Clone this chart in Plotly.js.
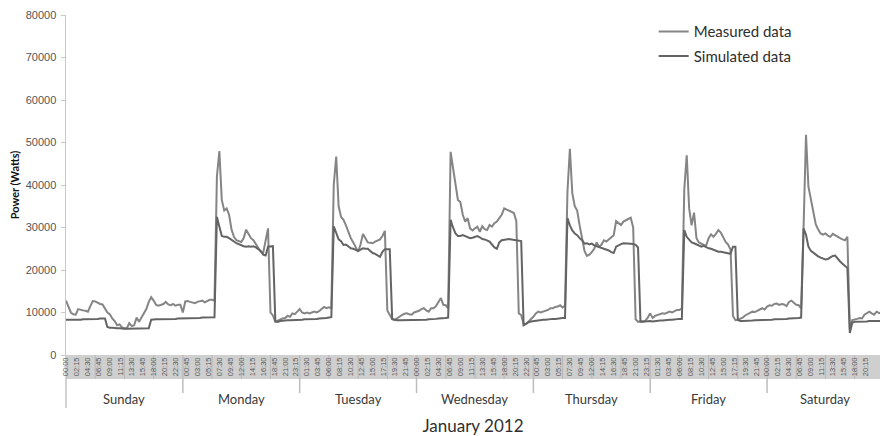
<!DOCTYPE html>
<html>
<head>
<meta charset="utf-8">
<script src="https://cdn.plot.ly/plotly-3.0.1.min.js"></script>
<style>
  html, body { margin: 0; padding: 0; background: #ffffff; }
  #chart { width: 880px; height: 436px; }
</style>
</head>
<body>
<div id="chart"></div>
<script>
// Building power over one week of January 2012, half-hourly readings (Watts)
const days = ['Sunday', 'Monday', 'Tuesday', 'Wednesday', 'Thursday', 'Friday', 'Saturday'];

// Clock labels on the time axis, one every 2h15 from Sunday 00:00
const timeLabels = [
  '00:00','02:15','04:30','06:45','09:00','11:15','13:30','15:45','18:00','20:15','22:30',
  '00:45','03:00','05:15','07:30','09:45','12:00','14:15','16:30','18:45','21:00','23:15',
  '01:30','03:45','06:00','08:15','10:30','12:45','15:00','17:15','19:30','21:45',
  '00:00','02:15','04:30','06:45','09:00','11:15','13:30','15:45','18:00','20:15','22:30',
  '00:45','03:00','05:15','07:30','09:45','12:00','14:15','16:30','18:45','21:00','23:15',
  '01:30','03:45','06:00','08:15','10:30','12:45','15:00','17:15','19:30','21:45',
  '00:00','02:15','04:30','06:45','09:00','11:15','13:30','15:45','18:00','20:15','22:30'
];

// Measured power, 48 half-hour values per day
const measuredSun = [12800,11200,10000,9600,9500,10800,10600,10500,10400,10200,11500,12700,12600,12300,12000,11900,11000,10000,9600,8600,8000,7000,7200,6500,6300,6300,7500,6800,7000,8800,7800,8800,9800,10800,12500,13600,12800,11800,11600,11900,12000,12500,11900,11700,12000,11600,11800,11800];
const measuredMon = [10000,12600,12700,12500,12300,12200,12500,12600,12800,12400,12700,13000,13000,12800,42000,48000,36500,34000,34500,33000,29500,27800,27000,26800,26600,27500,29500,28500,27500,27000,26000,25000,24300,24000,27000,29800,10000,9300,7800,8200,8400,8600,8700,9200,9000,9800,9600,10200];
const measuredTue = [10800,10000,9800,10000,9800,10000,10200,10000,10300,10800,11300,11000,11200,11000,40000,46700,35000,32500,31800,30500,29000,27500,26500,25500,24300,26000,28500,27500,26500,26400,26300,26700,27000,27200,28000,29200,10500,9400,8400,8200,8600,9200,9400,9700,9800,9600,9500,10000];
const measuredWed = [10200,10400,10800,11000,10500,10200,11000,11000,11500,12500,13400,11800,11700,11000,47800,44000,40000,36500,36000,33000,31400,32200,29800,29300,29800,30200,29000,30300,29600,29400,30600,30200,31000,31400,32200,33000,34500,34200,34000,33700,33400,31500,9800,9400,7200,7300,7800,8500];
const measuredThu = [9000,9800,10200,10000,10200,10400,10600,11000,11000,11300,11400,11700,11200,11600,38400,48500,38000,35000,34000,30500,27500,24500,23300,23600,24200,25000,26500,25500,26000,27000,26700,27200,27800,28200,31500,31000,30600,31400,31800,32000,32300,30000,8400,7800,8000,7900,8100,8800];
const measuredFri = [9800,8700,9200,9400,9600,9800,9700,9900,10200,10000,10300,10600,10600,11000,39000,47000,34500,30500,33500,27500,26500,26200,25900,25800,27500,28400,27800,28500,29400,28800,27800,26600,26000,24800,9200,8200,8300,8500,8800,9300,9600,10000,10200,10100,10400,10700,11000,10700];
const measuredSat = [11400,11700,11600,12000,12100,11800,12000,11900,11500,12500,12800,12300,11800,11700,11000,30000,51800,39600,36500,33500,30800,29500,28600,28300,28600,28100,27800,28500,28100,27800,27500,27200,27000,27800,6000,8200,8300,8500,8700,8600,9500,9800,10200,9800,9500,10200,9900,9900];

// Simulated power, 48 half-hour values per day
const simulatedSun = [8300,8300,8200,8200,8300,8300,8300,8400,8400,8400,8400,8500,8500,8500,8600,8600,8600,6600,6400,6400,6300,6300,6300,6200,6200,6200,6200,6200,6200,6200,6200,6200,6200,6300,6300,8300,8400,8400,8400,8400,8500,8500,8500,8500,8500,8500,8600,8600];
const simulatedMon = [8600,8600,8600,8600,8700,8700,8700,8700,8800,8800,8800,8900,8900,8900,32500,30000,28000,27800,27800,27500,27000,26700,26300,26000,25800,25600,25500,25600,25500,25600,25300,24900,24500,23600,23400,25500,25600,25600,8000,7800,8000,8100,8100,8200,8200,8200,8300,8300];
const simulatedTue = [8300,8300,8400,8400,8400,8500,8500,8500,8600,8600,8700,8700,8800,8900,30300,28500,27200,26800,25900,26000,25500,25100,25000,24700,24500,24800,25100,25000,25000,24500,24000,23800,23400,23100,24300,24900,24900,24900,8500,8300,8200,8200,8200,8300,8300,8300,8300,8300];
const simulatedWed = [8200,8200,8300,8300,8300,8400,8400,8500,8500,8600,8600,8700,8700,8800,31800,30000,28600,28000,28000,28200,28000,27800,27500,27600,27800,28000,27700,27300,27200,27000,26700,26000,25300,25000,26500,27000,27100,27300,27300,27200,27100,27000,27000,26800,7000,7400,7700,7900];
const simulatedThu = [8000,8100,8200,8200,8300,8300,8400,8400,8500,8500,8600,8600,8700,8700,32200,30500,29300,28600,28200,27500,27000,26200,26300,26000,26200,25800,25600,25300,25100,25000,24800,24600,24200,24000,25500,25900,26100,26300,26300,26300,26200,26100,25900,25300,7800,7800,7900,8000];
const simulatedFri = [8000,7900,8000,8000,8100,8100,8200,8200,8300,8300,8400,8400,8500,8500,29400,27800,27000,26500,26300,26000,25900,25500,25700,25400,25100,25000,24800,24500,24300,24300,24200,24000,23900,23800,25500,25500,8200,8000,8000,8000,8100,8100,8100,8200,8200,8200,8300,8300];
const simulatedSat = [8300,8300,8300,8400,8400,8400,8500,8500,8500,8600,8600,8600,8700,8700,8800,29800,28300,25500,24500,24000,23500,23200,22900,22700,22500,22600,23000,23300,23400,22600,22000,21500,21000,20500,5200,7600,7800,7800,7800,7900,7900,7900,8000,8000,8000,8000,8000,8000];

const measuredWeek = [measuredSun, measuredMon, measuredTue, measuredWed, measuredThu, measuredFri, measuredSat];
const simulatedWeek = [simulatedSun, simulatedMon, simulatedTue, simulatedWed, simulatedThu, simulatedFri, simulatedSat];

// x is measured in hours since Sunday 00:00
function hoursOf(week) {
  const xs = [];
  week.forEach((dayVals, d) => dayVals.forEach((_, i) => xs.push(24 * d + 0.5 * i)));
  return xs;
}
const flat = week => [].concat(...week);

const FONT = 'Lato, "Noto Sans", sans-serif';
const bandDepth = 24 / 340;      // grey label band under the plot (paper units)
const dayTick = 38 / 340;        // day separators reach below the band

const traces = [
  {
    x: hoursOf(measuredWeek), y: flat(measuredWeek),
    type: 'scatter', mode: 'lines', name: 'Measured data', legendgroup: 'm',
    line: { color: '#858585', width: 2 }
  },
  {
    x: hoursOf(simulatedWeek), y: flat(simulatedWeek),
    type: 'scatter', mode: 'lines', name: 'Simulated data', legendgroup: 's',
    line: { color: '#646464', width: 2 }
  }
];

const shapes = [
  { type: 'rect', xref: 'paper', yref: 'paper', x0: 0, x1: 1, y0: 0, y1: -bandDepth,
    fillcolor: '#cfcfcf', line: { width: 0 }, layer: 'below' },
  { type: 'line', xref: 'paper', yref: 'paper', x0: 0, x1: 0, y0: 0, y1: -53 / 340,
    line: { color: '#c4c4c4', width: 1.5 }, layer: 'below' }
];
for (let h = 6; h < 168; h += 6) {
  const isDay = h % 24 === 0;
  shapes.push({
    type: 'line', xref: 'x', yref: 'paper', x0: h, x1: h, y0: 0,
    y1: isDay ? -dayTick : -bandDepth,
    line: { color: isDay ? '#bdbdbd' : '#b8b8b8', width: isDay ? 1.5 : 1 }, layer: 'below'
  });
}

const annotations = days.map((name, d) => ({
  x: 24 * d + 12, y: -44 / 340, xref: 'x', yref: 'paper',
  text: name, showarrow: false, xanchor: 'center', yanchor: 'middle',
  font: { family: FONT, size: 13, color: '#3a3a3a' }
}));

const layout = {
  width: 880, height: 436,
  margin: { l: 66, r: 0, t: 15, b: 81 },
  paper_bgcolor: '#ffffff', plot_bgcolor: '#ffffff',
  font: { family: FONT, color: '#404040' },
  showlegend: true,
  legend: {
    x: 0.722, y: 0.999, xanchor: 'left', yanchor: 'top',
    font: { family: FONT, size: 15, color: '#2e2e2e' },
    bgcolor: 'rgba(0,0,0,0)', tracegroupgap: 2, traceorder: 'grouped'
  },
  xaxis: {
    range: [0, 167.2], showgrid: false, zeroline: false, showline: false,
    tickmode: 'array', tickvals: timeLabels.map((_, i) => i * 2.25), ticktext: timeLabels,
    tickangle: -90, ticks: '', tickfont: { family: '"Liberation Sans", Arial, sans-serif', size: 7.5, color: '#5a5a5a' },
    title: { text: 'January 2012', font: { family: FONT, size: 17, color: '#303030' }, standoff: 44 },
    automargin: false
  },
  yaxis: {
    range: [0, 80000], dtick: 10000, tickformat: 'd',
    showgrid: false, zeroline: false, showline: true, linecolor: '#c8c8c8', linewidth: 1.5,
    ticks: 'outside', ticklen: 4, tickcolor: '#c8c8c8', ticklabelstandoff: 2,
    tickfont: { family: '"Liberation Sans", Arial, sans-serif', size: 11, color: '#555555' },
    title: { text: '<b>Power (Watts)</b>', font: { family: FONT, size: 11, color: '#111111' }, standoff: 4 },
    automargin: false
  },
  shapes: shapes,
  annotations: annotations
};

Plotly.newPlot('chart', traces, layout, { staticPlot: true, displayModeBar: false });
</script>
</body>
</html>
